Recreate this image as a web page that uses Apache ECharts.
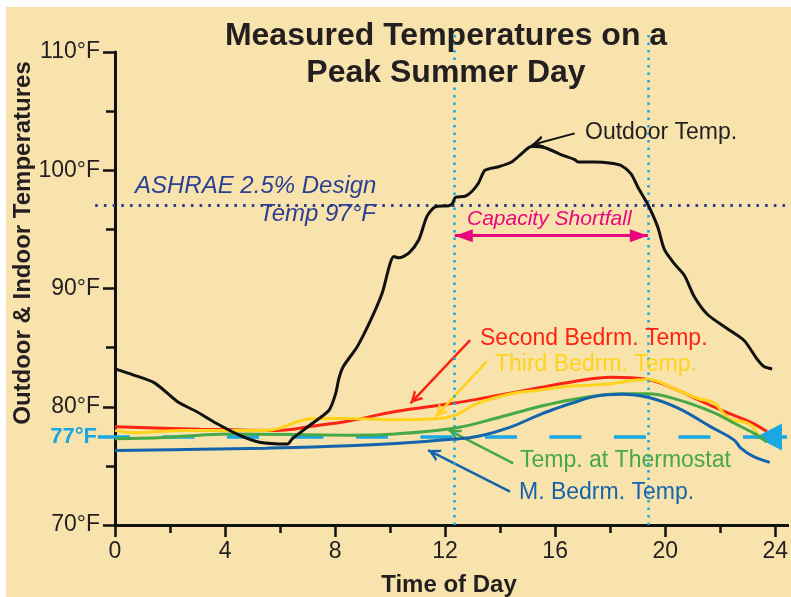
<!DOCTYPE html>
<html>
<head>
<meta charset="utf-8">
<script src="https://cdn.jsdelivr.net/npm/echarts@6/dist/echarts.min.js"></script>
<style>html,body{margin:0;padding:0;background:#fff}#c{width:791px;height:597px}</style>
</head>
<body>
<div id="c"></div>
<script>
// ---------- data (hour of day, °F) ----------
const xTickLabels = ['0', '4', '8', '12', '16', '20', '24'];
const yTickLabels = ['70°F', '80°F', '90°F', '100°F', '110°F'];
const designTemp = 97;
const thermostatSetpoint = 77.45;
const shortfallStart = 12.35;
const shortfallEnd = 19.37;

const outdoorTemp = [
  [0,83.2],[0.66,82.7],[1.45,82.0],[2.29,80.4],[2.96,79.6],[3.68,78.6],[4.52,77.6],[5.25,77.0],
  [6.27,76.85],[6.45,77.3],[7.18,78.6],[7.78,79.7],[8.02,81.1],[8.14,82.4],[8.3,83.4],[8.81,85.1],
  [9.29,87.3],[9.71,89.6],[10.14,92.7],[10.32,92.6],[10.68,93.0],[11.04,94.1],[11.34,96.1],[11.64,96.9],
  [12.13,97.0],[12.27,97.2],[12.37,97.7],[12.73,97.8],[12.97,98.2],[13.21,98.9],[13.45,100.0],[13.94,100.3],
  [14.42,100.7],[14.78,101.4],[15.14,102.0],[15.63,101.9],[16.23,101.3],[16.71,100.9],[16.83,100.7],
  [17.44,100.7],[18.04,100.6],[18.4,100.4],[18.76,99.7],[19.0,98.6],[19.37,97.1],[19.73,95.2],[19.97,93.3],
  [20.33,92.1],[20.7,91.1],[21.06,89.3],[21.54,87.8],[22.26,86.6],[22.87,85.6],[23.35,84.0],[23.59,83.4],[23.89,83.2]
];
const secondBedrm = [
  [0,78.3],[3.08,78.1],[5.85,78.0],[7.3,78.4],[8.5,78.8],[10.2,79.6],[12.3,80.3],[14.0,81.0],
  [15.4,81.6],[16.6,82.1],[18.04,82.5],[19.37,82.3],[20.45,81.4],[21.2,80.6],[22.14,79.6],[23.1,78.7],[23.7,77.9]
];
const thirdBedrm = [
  [0,78.0],[0.65,77.8],[2.47,78.0],[5.5,78.0],[6.0,78.2],[6.7,78.8],[7.3,79.0],[8.5,79.0],[10.3,78.9],
  [11.77,79.0],[12.37,79.3],[13.2,80.3],[14.4,81.1],[15.4,81.4],[16.6,81.75],[17.8,81.9],[19.37,82.3],
  [20.45,81.4],[21.2,80.7],[21.8,80.3],[22.3,79.0],[22.9,78.7],[23.2,78.3],[23.35,77.6]
];
const thermostat = [
  [0,77.3],[1.75,77.4],[3.08,77.6],[4.3,77.7],[8.5,77.6],[10.2,77.7],[12.37,78.2],[13.8,79.0],
  [15.4,80.0],[16.6,80.6],[18.4,81.1],[19.37,81.1],[20.45,80.6],[21.66,79.6],[22.6,78.5],[23.35,77.6],[23.7,77.0]
];
const masterBedrm = [
  [0,76.3],[3.08,76.4],[5.5,76.5],[8.5,76.7],[10.2,76.9],[12.25,77.25],[13.2,77.5],[14.4,78.3],
  [15.4,79.3],[16.1,79.9],[16.6,80.3],[17.5,80.9],[18.4,81.05],[19.37,80.8],[20.45,79.9],[21.66,78.3],
  [22.5,77.2],[22.75,76.5],[23.2,75.8],[23.8,75.3]
];

// ---------- styling ----------
const FONT = 'Liberation Sans, Arial, Helvetica, sans-serif';
const INK = '#231f20';
const RED = '#fb2412', YEL = '#ffd21c', GRN = '#46a846', BLU = '#1464ad', CYAN = '#19a8e4', NAVY = '#2c3f92', MAG = '#e8077f';

const chevron = 'path://M0,0 L6,10 L3.4,10 L0,4.3 L-3.4,10 L-6,10 Z';
function annotArrow(from, to, color, w) {
  return [
    {coord: from, symbol: 'none', lineStyle: {color: color, width: w, type: 'solid'}},
    {coord: to, symbol: chevron, symbolSize: [13, 12], symbolOffset: [0, 6]}
  ];
}

function lineSeries(name, data, color, width, z, smooth) {
  return {
    name: name, type: 'line', data: data, smooth: smooth, symbol: 'none', showSymbol: false,
    lineStyle: {color: color, width: width}, z: z, silent: true, clip: false
  };
}

function txt(text, x, y, size, weight, style, color, align) {
  return {type: 'text', x: x, y: y, z: 100, silent: true,
    style: {text: text, fontSize: size, fontWeight: weight, fontStyle: style, fontFamily: FONT, fill: color,
            align: align, verticalAlign: 'middle', textAlign: align, textVerticalAlign: 'middle'}};
}

const chart = echarts.init(document.getElementById('c'), null, {renderer: 'canvas'});

const option = {
  animation: false,
  backgroundColor: '#f8e3ad',
  grid: {left: 115, right: 13, top: 52, bottom: 72, containLabel: false},
  xAxis: {
    type: 'value', min: 0, max: 24, interval: 4,
    axisLine: {onZero: false, lineStyle: {color: '#111', width: 3}},
    axisTick: {length: 12, lineStyle: {color: '#111', width: 2.5}},
    minorTick: {show: true, splitNumber: 2, length: 8, lineStyle: {color: '#111', width: 2.5}},
    splitLine: {show: false}, minorSplitLine: {show: false},
    axisLabel: {fontSize: 23, color: INK, margin: 15, fontFamily: FONT,
      formatter: function (v) { return xTickLabels[Math.round(v / 4)]; }}
  },
  yAxis: {
    type: 'value', min: 70, max: 110, interval: 10,
    axisLine: {onZero: false, lineStyle: {color: '#111', width: 3}},
    axisTick: {length: 12, lineStyle: {color: '#111', width: 2.5}},
    minorTick: {show: true, splitNumber: 2, length: 9, lineStyle: {color: '#111', width: 2.5}},
    splitLine: {show: false}, minorSplitLine: {show: false},
    axisLabel: {fontSize: 23, color: INK, margin: 15, fontFamily: FONT,
      formatter: function (v) { return yTickLabels[Math.round((v - 70) / 10)]; }}
  },
  series: [
    lineSeries('Second Bedrm. Temp.', secondBedrm, RED, 3, 3, 0.4),
    lineSeries('Third Bedrm. Temp.', thirdBedrm, YEL, 3, 4, 0.4),
    lineSeries('Temp. at Thermostat', thermostat, GRN, 3, 5, 0.4),
    lineSeries('M. Bedrm. Temp.', masterBedrm, BLU, 3, 6, 0.4),
    lineSeries('Outdoor Temp.', outdoorTemp, '#111', 3, 8, 0.25),
    {
      name: 'annot', type: 'line', data: [], z: 9, silent: true, clip: false,
      markLine: {
        silent: true, symbol: ['none', 'none'], label: {show: false}, animation: false,
        emphasis: {disabled: true},
        data: [
          [{coord: [shortfallStart, 94.47], symbol: 'triangle', symbolSize: [13, 18], symbolOffset: [0, 9], lineStyle: {color: MAG, width: 3, type: 'solid'}},
           {coord: [shortfallEnd, 94.47], symbol: 'triangle', symbolSize: [13, 18], symbolOffset: [0, 9]}],
          annotArrow([16.71, 103.12], [15.14, 102.14], '#111', 2),
          annotArrow([12.91, 85.64], [10.74, 80.29], RED, 2.5),
          annotArrow([13.51, 83.81], [11.65, 79.16], YEL, 2.5),
          annotArrow([14.48, 75.22], [12.13, 78.03], GRN, 2.5),
          annotArrow([14.36, 72.82], [11.38, 76.34], BLU, 2.5)
        ]
      }
    }
  ],
  graphic: [
    {type: 'rect', shape: {x: 0, y: 0, width: 791, height: 7}, style: {fill: '#fff'}, z: 0, silent: true},
    {type: 'rect', shape: {x: 0, y: 0, width: 6, height: 597}, style: {fill: '#fff'}, z: 0, silent: true},
    txt('Measured Temperatures on a', 446, 36, 32, 'bold', 'normal', INK, 'center'),
    txt('Peak Summer Day', 446, 73, 32, 'bold', 'normal', INK, 'center'),
    txt('Time of Day', 449, 585, 24, 'bold', 'normal', INK, 'center'),
    {type: 'text', x: 23, y: 243, rotation: Math.PI / 2, z: 100, silent: true,
     style: {text: 'Outdoor & Indoor Temperatures', fontSize: 24, fontWeight: 'bold', fontFamily: FONT, fill: INK,
             align: 'center', verticalAlign: 'middle', textAlign: 'center', textVerticalAlign: 'middle'}},
    txt('ASHRAE 2.5% Design', 135, 186, 24, 'normal', 'italic', NAVY, 'left'),
    txt('Temp 97°F', 376, 214, 24, 'normal', 'italic', NAVY, 'right'),
    txt('Capacity Shortfall', 467, 219, 21, 'normal', 'italic', MAG, 'left'),
    txt('Outdoor Temp.', 585, 133, 23, 'normal', 'normal', INK, 'left'),
    txt('Second Bedrm. Temp.', 480, 339, 23, 'normal', 'normal', RED, 'left'),
    txt('Third Bedrm. Temp.', 495, 365, 23, 'normal', 'normal', YEL, 'left'),
    txt('Temp. at Thermostat', 520, 461, 23, 'normal', 'normal', GRN, 'left'),
    txt('M. Bedrm. Temp.', 519, 493, 23, 'normal', 'normal', BLU, 'left'),
    txt('77°F', 97, 437, 22, 'bold', 'normal', CYAN, 'right')
  ]
};

chart.setOption(option);

// Reference lines that run past the axis range: convert data values to pixels via the chart's own scales
function P(h, t) {
  const p = chart.convertToPixel({xAxisIndex: 0, yAxisIndex: 0}, [h, t]);
  return {x: p[0], y: p[1]};
}
function seg(a, b, lineStyle, endOpts) {
  const s = Object.assign({symbol: 'none', lineStyle: lineStyle}, a);
  const e = Object.assign({symbol: 'none'}, b, endOpts || {});
  return [s, e];
}
chart.setOption({
  series: [{
    id: 'refs', name: 'refs', type: 'line', data: [], z: 7, silent: true, clip: false,
    markLine: {
      silent: true, symbol: ['none', 'none'], label: {show: false}, animation: false,
      emphasis: {disabled: true},
      data: [
        seg(P(-0.72, designTemp), P(24.47, designTemp), {color: NAVY, width: 3, type: [2.6, 6.1]}),
        seg(P(shortfallStart, 70), P(shortfallStart, 111.6), {color: CYAN, width: 2.5, type: [2.4, 5.1]}),
        seg(P(shortfallEnd, 70), P(shortfallEnd, 111.6), {color: CYAN, width: 2.5, type: [2.4, 5.1]}),
        seg(P(-0.62, thermostatSetpoint), P(24.43, thermostatSetpoint), {color: CYAN, width: 3.5, type: [32, 32.5]}),
        seg(P(24.43, thermostatSetpoint), P(23.3, thermostatSetpoint), {color: CYAN, width: 3.5, type: 'solid'},
            {symbol: 'triangle', symbolSize: [27, 26], symbolOffset: [0, 13]}),
        seg(P(24, 70), P(24.5, 70), {color: '#111', width: 3, type: 'solid'})
      ]
    }
  }]
});
</script>
</body>
</html>
